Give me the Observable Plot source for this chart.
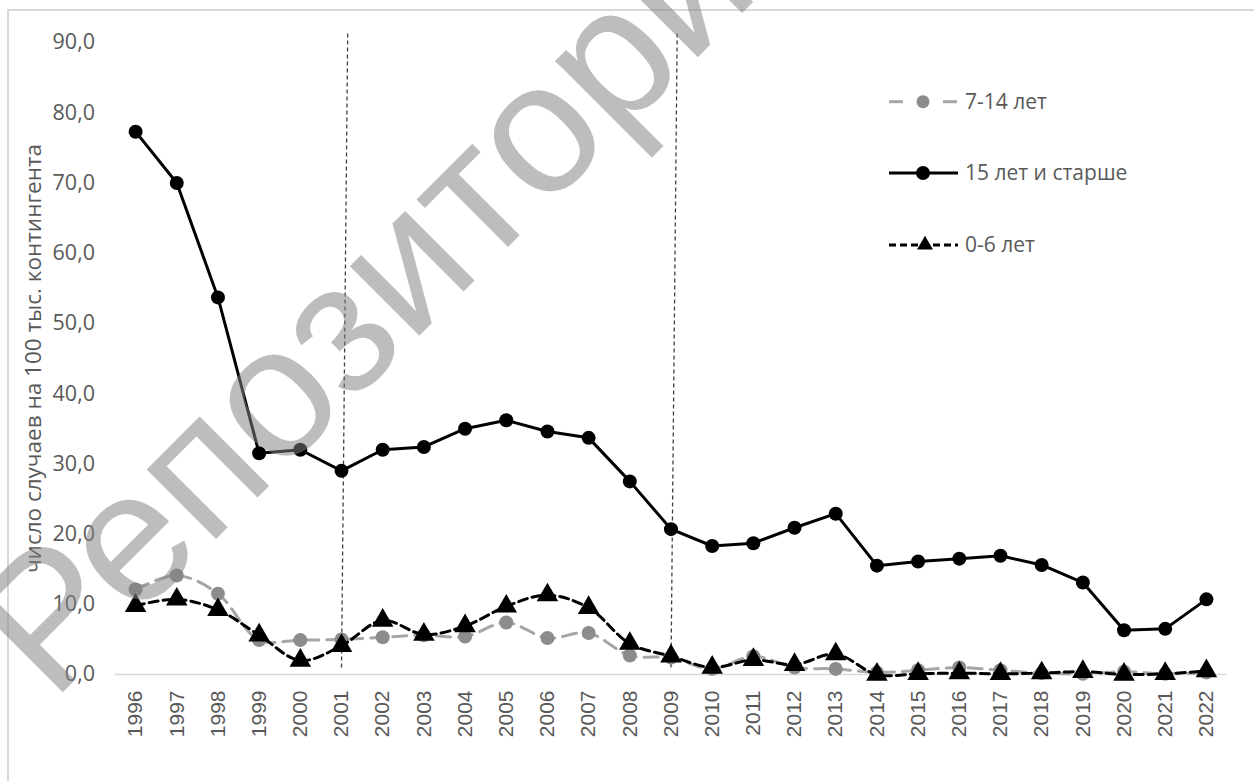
<!DOCTYPE html>
<html><head><meta charset="utf-8">
<script src="https://cdn.jsdelivr.net/npm/d3@7"></script>
<script src="https://cdn.jsdelivr.net/npm/@observablehq/plot@0.6"></script>
<style>
body{margin:0;background:#fff;}
#wrap{position:relative;width:1254px;height:781px;overflow:hidden;background:#fff;}
#frame{position:absolute;left:7px;top:9px;width:1300px;height:900px;border-left:2px solid #d9d9d9;border-top:2px solid #d9d9d9;}
#wrap svg{position:absolute;left:0;top:0;}
</style></head><body><div id="wrap"><div id="frame"></div></div>
<script>
const years = [1996,1997,1998,1999,2000,2001,2002,2003,2004,2005,2006,2007,2008,2009,2010,2011,2012,2013,2014,2015,2016,2017,2018,2019,2020,2021,2022];
const age7_14 = [12.1,14.1,11.5,4.9,4.9,5.0,5.3,5.6,5.4,7.4,5.2,5.9,2.7,2.4,0.8,2.6,1.0,0.8,0.3,0.6,1.0,0.6,0.2,0.1,0.4,0.1,0.3];
const age15plus = [77.3,70.0,53.7,31.5,32.0,29.0,32.0,32.4,35.0,36.2,34.6,33.7,27.5,20.7,18.3,18.7,20.9,22.9,15.5,16.1,16.5,16.9,15.6,13.1,6.3,6.5,10.7];
const age0_6 = [9.8,10.7,9.2,5.6,2.0,4.1,7.7,5.7,6.9,9.7,11.3,9.5,4.4,2.6,1.0,2.1,1.4,2.9,0.0,0.1,0.2,0.1,0.2,0.4,0.0,0.1,0.5];
const seriesNames = ["7-14 лет","15 лет и старше","0-6 лет"];
const yTicks = [0,10,20,30,40,50,60,70,80,90];
const dividerYears = [2001,2009];
const yTitle = "число случаев на 100 тыс. контингента";
const watermark = "Репозиторий БГУ";

const toRows = arr => years.map((year,i)=>({year, v: arr[i]}));
const s714 = toRows(age7_14), s15 = toRows(age15plus), s06 = toRows(age0_6);

const chart = Plot.plot({
  width:1254, height:781,
  marginLeft:114.5, marginRight:27.5, marginTop:42, marginBottom:107,
  style:{fontFamily:"'Open Sans', sans-serif", color:"#595959", background:"transparent", overflow:"visible"},
  x:{domain:[1995.5,2022.5]},
  y:{domain:[0,90]},
  marks:[
    Plot.ruleY([0],{stroke:"#d9d9d9", strokeWidth:1.5}),
    Plot.link(dividerYears,{x1:d=>d, x2:d=>d+0.15, y1:1, y2:91.3, stroke:"#404040", strokeWidth:1.3, strokeDasharray:"4,3"}),
    Plot.axisY({ticks:yTicks, tickFormat:d=>d.toFixed(1).replace(".",","), tickSize:0, tickPadding:20, fontSize:21.5, label:null, fill:"#595959"}),
    Plot.axisX({ticks:years, tickFormat:d=>String(d), tickRotate:-90, tickSize:0, tickPadding:16, fontSize:21, fontFamily:"'Liberation Sans', Arial, sans-serif", label:null, fill:"#595959"}),
    Plot.text([yTitle],{text:d=>d, frameAnchor:"left", rotate:-90, dx:-81.5, fontSize:22.5, fill:"#595959", textAnchor:"middle", lineAnchor:"middle"}),
    Plot.line(s714,{x:"year", y:"v", stroke:"#a6a6a6", strokeWidth:3, strokeDasharray:"14,8", curve:"catmull-rom"}),
    Plot.dot(s714,{x:"year", y:"v", r:7, fill:"#8c8c8c", stroke:"none"}),
    Plot.line(s15,{x:"year", y:"v", stroke:"#000", strokeWidth:3}),
    Plot.dot(s15,{x:"year", y:"v", r:7, fill:"#000", stroke:"none"}),
    Plot.line(s06,{x:"year", y:"v", stroke:"#000", strokeWidth:3, strokeDasharray:"9,5", curve:"catmull-rom"}),
    Plot.dot(s06,{x:"year", y:"v", symbol:"triangle", r:8, fill:"#000", stroke:"none"})
  ]
});
document.getElementById("wrap").appendChild(chart);

// legend + watermark overlay
const svg = d3.select("#wrap").append("svg").attr("width",1254).attr("height",781);
const leg = svg.append("g").attr("font-family","'Open Sans', sans-serif").attr("font-size",21).attr("fill","#595959");
const ly = [101.7,173,245];
// 7-14
leg.append("line").attr("x1",889).attr("x2",903).attr("y1",ly[0]).attr("y2",ly[0]).attr("stroke","#a6a6a6").attr("stroke-width",3);
leg.append("line").attr("x1",943).attr("x2",957).attr("y1",ly[0]).attr("y2",ly[0]).attr("stroke","#a6a6a6").attr("stroke-width",3);
leg.append("circle").attr("cx",923).attr("cy",ly[0]).attr("r",6.5).attr("fill","#8c8c8c");
// 15+
leg.append("line").attr("x1",889).attr("x2",958).attr("y1",ly[1]).attr("y2",ly[1]).attr("stroke","#000").attr("stroke-width",3);
leg.append("circle").attr("cx",923).attr("cy",ly[1]).attr("r",7).attr("fill","#000");
// 0-6
leg.append("line").attr("x1",889).attr("x2",958).attr("y1",ly[2]).attr("y2",ly[2]).attr("stroke","#000").attr("stroke-width",3).attr("stroke-dasharray","7,4");
leg.append("path").attr("d",d3.symbol(d3.symbolTriangle,110)()).attr("transform",`translate(925,${ly[2]})`).attr("fill","#000");
seriesNames.forEach((n,i)=>leg.append("text").attr("x",965).attr("y",ly[i]).attr("dy","0.35em").text(n));

svg.append("text").attr("x",52).attr("y",703).attr("transform","rotate(-45 52 703)")
  .attr("font-family","'Liberation Sans', Arial, sans-serif").attr("font-size",186)
  .attr("fill","rgba(128,128,128,0.52)").text(watermark);
</script></body></html>
